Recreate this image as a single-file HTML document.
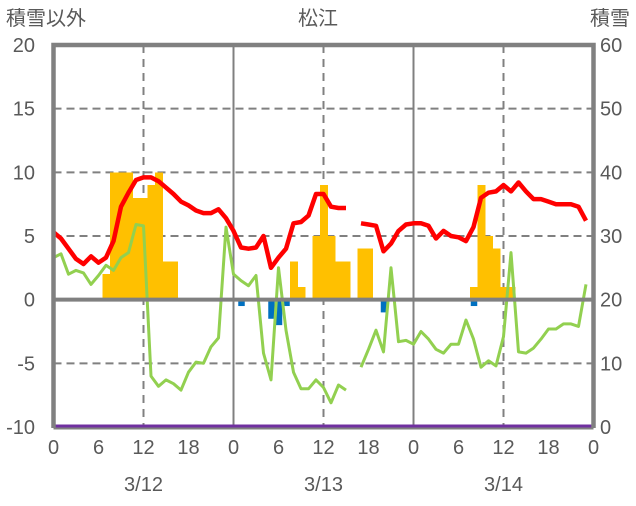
<!DOCTYPE html>
<html><head><meta charset="utf-8"><style>
body{margin:0;background:#fff;}
svg text{font-family:"Liberation Sans","Noto Sans CJK JP",sans-serif;fill:#595959;}
</style></head><body>
<svg id="chart" width="636" height="501" viewBox="0 0 636 501" xmlns="http://www.w3.org/2000/svg">
<g id="grid"></g><g id="bars"></g><g id="lines"></g><g id="axes"></g>
<text x="6" y="25" font-size="20">積雪以外</text>
<text x="318" y="25" font-size="20" text-anchor="middle">松江</text>
<text x="630" y="25" font-size="20" text-anchor="end">積雪</text>
</svg>
<script>
const leftTicks=[20,15,10,5,0,-5,-10];
const rightTicks=[60,50,40,30,20,10,0];
const hourLabels=["0","6","12","18","0","6","12","18","0","6","12","18","0"];
const dateLabels=["3/12","3/13","3/14"];
const redTemp=[5.3,4.8,4.0,3.2,2.8,3.4,2.9,3.3,4.6,7.3,8.4,9.4,9.6,9.6,9.3,8.8,8.3,7.7,7.4,7.0,6.8,6.8,7.1,6.4,5.4,4.1,4.0,4.1,5.0,2.5,3.3,4.0,6.0,6.1,6.6,8.3,8.3,7.3,7.2,7.2,null,6.0,5.9,5.8,3.8,4.4,5.4,5.9,6.0,6.0,5.8,4.8,5.4,5.0,4.9,4.6,5.7,8.0,8.4,8.5,9.0,8.5,9.2,8.5,7.9,7.9,7.7,7.5,7.5,7.5,7.3,6.2];
const greenSeries=[3.3,3.6,2.0,2.3,2.1,1.2,1.9,2.7,2.3,3.3,3.7,5.9,5.8,-6.0,-6.8,-6.3,-6.6,-7.1,-5.7,-4.9,-5.0,-3.7,-3.0,5.7,2.0,1.5,1.1,1.9,-4.2,-6.3,2.5,-2.4,-5.7,-7.0,-7.0,-6.3,-6.9,-8.1,-6.7,-7.1,null,-5.3,-3.9,-2.4,-4.1,2.5,-3.3,-3.2,-3.5,-2.5,-3.1,-3.9,-4.2,-3.5,-3.5,-1.6,-3.1,-5.3,-4.8,-5.2,-2.9,3.7,-4.1,-4.2,-3.8,-3.1,-2.3,-2.3,-1.9,-1.9,-2.1,1.2];
const yellowHours=[7,8,9,10,11,12,13,14,15,16,32,33,35,36,37,38,39,41,42,56,57,58,59,60,61];
const yellowValues=[2,10,10,10,8,8,9,10,3,3,3,1,5,9,5,3,3,4,4,1,9,5,4,1,1];
const blueHours=[25,29,30,31,44,56];
const blueValues=[-0.5,-1.5,-2,-0.5,-1,-0.5];
const snowDepth=[0,0];
const X0=53.5,X1=593.5,YT=45,YB=427;
function xs(h){return X0+(X1-X0)*h/72;}
function yl(v){return YB-(v+10)*(YB-YT)/30;}
function yr(v){return YB-v*(YB-YT)/60;}
const NS="http://www.w3.org/2000/svg";
function mk(p,t,a){const e=document.createElementNS(NS,t);for(const k in a)e.setAttribute(k,a[k]);p.appendChild(e);return e;}
const grid=document.getElementById('grid'),bars=document.getElementById('bars'),lines=document.getElementById('lines'),axes=document.getElementById('axes');
leftTicks.forEach(v=>{if(v===20||v===-10||v===0)return;
 const l=mk(grid,'line',{x1:X0,x2:X1,y1:yl(v),y2:yl(v),stroke:'#808080','stroke-width':2,'stroke-dasharray':'8,5'});
 
 });
for(let h=6;h<72;h+=6){
 if(h%24===12){const l=mk(grid,'line',{x1:xs(h),x2:xs(h),y1:YT,y2:YB,stroke:'#808080','stroke-width':2,'stroke-dasharray':'8,6'});
 
 }
 if(h%24===0){const l=mk(grid,'line',{x1:xs(h),x2:xs(h),y1:YT,y2:YB,stroke:'#808080','stroke-width':2});
 
 }
}
const bw=(X1-X0)/72;
yellowHours.forEach((h,i)=>{const v=yellowValues[i];
 const r=mk(bars,'rect',{x:xs(h)-bw/2,y:yl(v),width:bw+0.6,height:yl(0)-yl(v),fill:'#ffc000','shape-rendering':'crispEdges'});
 
 });
blueHours.forEach((h,i)=>{const v=blueValues[i];
 const r=mk(bars,'rect',{x:xs(h)-bw/2+1,y:yl(0),width:bw-1,height:yl(v)-yl(0),fill:'#0070c0'});
 
 });
const z=mk(axes,'line',{x1:X0,x2:X1,y1:yl(0),y2:yl(0),stroke:'#808080','stroke-width':4});


function path(arr){let d='',pen=false;arr.forEach((v,h)=>{if(v===null){pen=false;return;}d+=(pen?'L':'M')+xs(h).toFixed(1)+','+yl(v).toFixed(1);pen=true;});return d;}
const g=mk(lines,'path',{d:path(greenSeries),fill:'none',stroke:'#92d050','stroke-width':3,'stroke-linejoin':'round'});


const r=mk(lines,'path',{d:path(redTemp),fill:'none',stroke:'#ff0000','stroke-width':4.5,'stroke-linejoin':'round'});


const p=mk(lines,'line',{x1:X0,x2:X1,y1:yr(snowDepth[0])-1,y2:yr(snowDepth[1])-1,stroke:'#7030a0','stroke-width':3});


const f=mk(axes,'path',{d:`M${X0},${YB+1}L${X0},${YT}L${X1},${YT}L${X1},${YB+1}`,fill:'none',stroke:'#808080','stroke-width':4.5});


const b=mk(axes,'line',{x1:X0,x2:X1,y1:YB+1.5,y2:YB+1.5,stroke:'#808080','stroke-width':2});


leftTicks.forEach(v=>{const t=mk(axes,'text',{x:35,y:yl(v)+7,'font-size':20,'text-anchor':'end'});t.textContent=v;
 
 });
rightTicks.forEach(v=>{const t=mk(axes,'text',{x:600,y:yr(v)+7,'font-size':20});t.textContent=v;
 
 });
hourLabels.forEach((s,i)=>{const t=mk(axes,'text',{x:xs(i*6),y:454,'font-size':20,'text-anchor':'middle'});t.textContent=s;
 
 });
dateLabels.forEach((s,i)=>{const t=mk(axes,'text',{x:xs(i*24+12),y:491,'font-size':20,'text-anchor':'middle'});t.textContent=s;
 
 });
</script>
</body></html>
